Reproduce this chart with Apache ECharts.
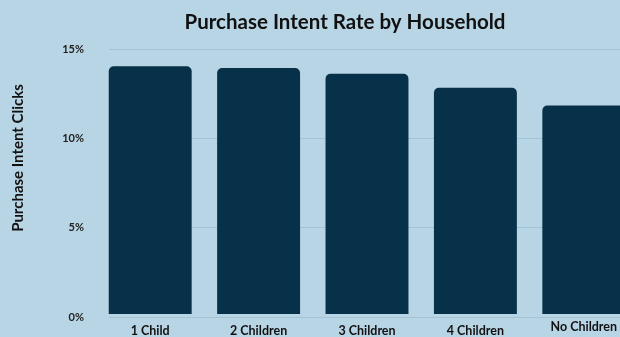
<!DOCTYPE html>
<html><head><meta charset="utf-8">
<script src="https://cdn.jsdelivr.net/npm/echarts@6/dist/echarts.min.js"></script>
<style>html,body{margin:0;padding:0;background:#b8d5e5;overflow:hidden;width:620px;height:337px}#c{width:638px;height:337px}</style>
</head><body><div id="c"></div>
<script>
const categories = ['1 Child', '2 Children', '3 Children', '4 Children', 'No Children'];
const values = [14.02, 13.92, 13.6, 12.8, 11.8];
const yTicks = [0, 5, 10, 15];

const chart = echarts.init(document.getElementById('c'));
chart.setOption({
  backgroundColor: '#b8d5e5',
  animation: false,
  title: {
    text: 'Purchase Intent Rate by Household',
    left: 340, top: 7, textAlign: 'center',
    textStyle: { fontFamily: 'Lato', fontWeight: 'bold', fontSize: 20.5, color: '#111' }
  },
  grid: [
    { left: 96, right: 0, top: 49, bottom: 20, containLabel: false },
    { left: 109, right: 0, top: 49, bottom: 20, containLabel: false }
  ],
  xAxis: [{
    type: 'category', data: categories, gridIndex: 0,
    axisLine: { show: false },
    axisTick: { show: false },
    axisLabel: {
      interval: 0, margin: 10, color: '#111', fontFamily: 'Lato', fontWeight: 'bold', fontSize: 12.5,
      formatter: function (v) { return v === 'No Children' ? '{up|' + v + '}' : v; },
      rich: { up: { fontFamily: 'Lato', fontWeight: 'bold', fontSize: 12.5, color: '#111', lineHeight: 5 } }
    }
  }, {
    type: 'value', gridIndex: 1, show: false, min: 0, max: 1
  }],
  yAxis: [{
    type: 'value', min: 0, max: 15, interval: 5, gridIndex: 0,
    axisLine: { show: false }, axisTick: { show: false },
    splitLine: { show: false }, axisLabel: { show: false }
  }, {
    type: 'value', min: 0, max: 15, interval: 5, gridIndex: 1,
    name: 'Purchase Intent Clicks', nameLocation: 'middle', nameRotate: 90, nameGap: 83,
    nameTextStyle: { fontFamily: 'Lato', fontWeight: 'bold', fontSize: 15, color: '#111', padding: [0, 0, 0, 50] },
    axisLine: { show: false }, axisTick: { show: false },
    splitLine: { lineStyle: { color: '#a3c2d3', width: 1 } },
    axisLabel: {
      margin: 25, color: '#222', fontFamily: 'Lato', fontWeight: 'bold', fontSize: 11,
      formatter: function (v) { return yTicks.indexOf(v) >= 0 ? v + '%' : ''; }
    }
  }],
  series: [{
    type: 'bar', data: values, barCategoryGap: '23.5%', xAxisIndex: 0, yAxisIndex: 0,
    itemStyle: { color: '#063149', borderRadius: [5, 5, 0, 0] }
  }]
});
</script></body></html>
